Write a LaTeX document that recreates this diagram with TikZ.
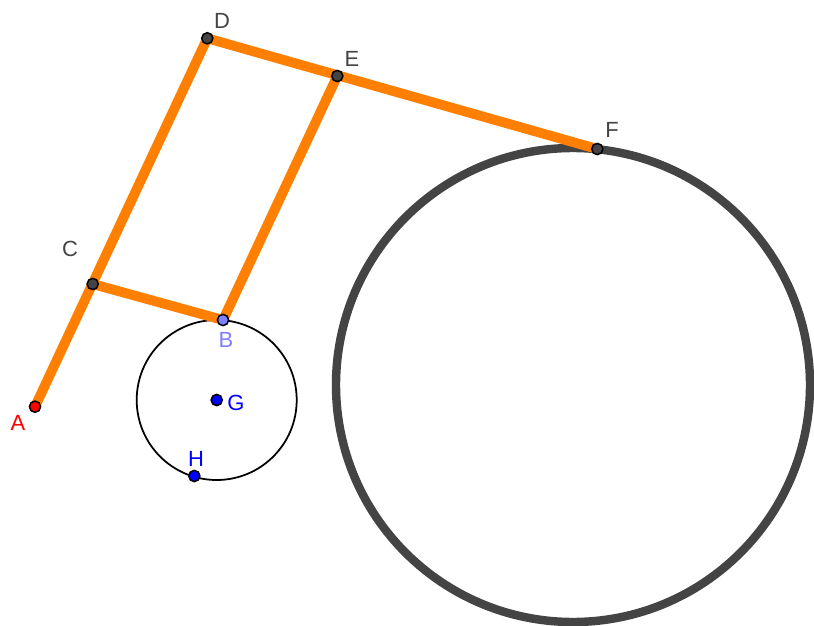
\documentclass[tikz,border=0pt]{standalone}
\usepackage{fontspec}
\setmainfont{Liberation Sans}
\usetikzlibrary{positioning}
\definecolor{segorange}{HTML}{FF7F00}
\definecolor{ptgray}{HTML}{444444}
\definecolor{ptlilac}{HTML}{7F7FFF}
\begin{document}
\begin{tikzpicture}[
  x=0.02cm, y=-0.02cm,
  seg/.style={segorange, line width=5.6pt},
  bigcirc/.style={ptgray, line width=4.8pt},
  smallcirc/.style={black, line width=1pt},
  pt/.style={circle, draw=black, line width=0.85pt, inner sep=0pt, minimum size=6.4pt},
  lbl/.style={font=\fontsize{12.5}{14}\selectfont, inner sep=0pt}
]
\useasboundingbox (0,0) rectangle (814,625);

% Points
\coordinate (A) at (35,406.7);
\coordinate (B) at (223,320);
\coordinate (C) at (92.7,284);
\coordinate (D) at (207.3,38.3);
\coordinate (E) at (337.3,76);
\coordinate (F) at (597.3,149);
\coordinate (G) at (216.7,400);
\coordinate (H) at (194.3,476);
\coordinate (O) at (573,385);

% Circles
\draw[bigcirc] (O) circle[radius=237];
\draw[smallcirc] (G) circle[radius=80];

% Segments
\draw[seg] (A) -- (D);
\draw[seg] (C) -- (B);
\draw[seg] (B) -- (E);
\draw[seg] (D) -- (F);

% Point markers
\node[pt, fill=red] (ptA) at (A) {};
\node[pt, fill=ptlilac] (ptB) at (B) {};
\node[pt, fill=ptgray] (ptC) at (C) {};
\node[pt, fill=ptgray] (ptD) at (D) {};
\node[pt, fill=ptgray] (ptE) at (E) {};
\node[pt, fill=ptgray] (ptF) at (F) {};
\node[pt, fill=blue] (ptG) at (G) {};
\node[pt, fill=blue] (ptH) at (H) {};

% Labels
\node[lbl, text=red] (lA) at (18,423) {A};
\node[lbl, text=ptlilac] (lB) at (226,340) {B};
\node[lbl, text=ptgray] (lC) at (70,249) {C};
\node[lbl, text=ptgray] (lD) at (222,21) {D};
\node[lbl, text=ptgray] (lE) at (352,59) {E};
\node[lbl, text=ptgray] (lF) at (612,130) {F};
\node[lbl, text=blue] (lG) at (236,403) {G};
\node[lbl, text=blue] (lH) at (196,459) {H};

\end{tikzpicture}
\end{document}
